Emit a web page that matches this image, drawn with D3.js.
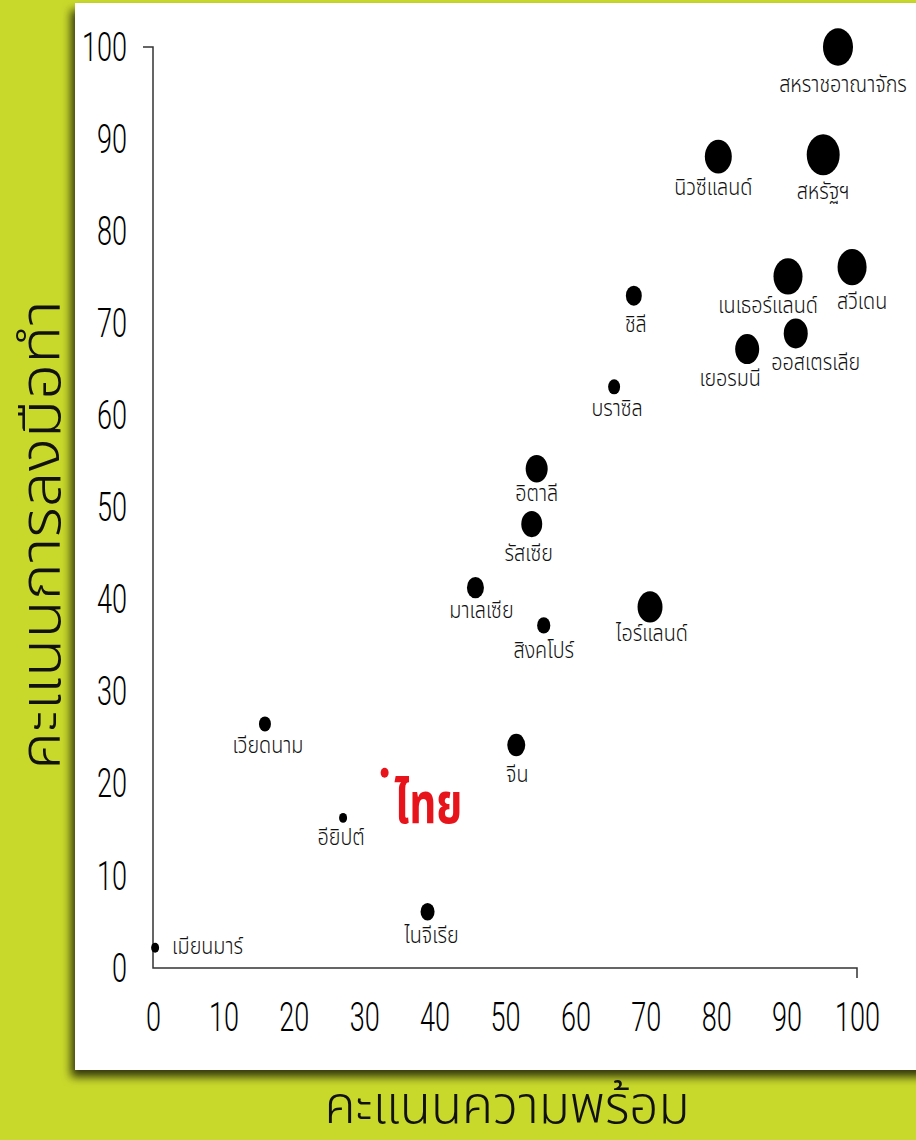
<!DOCTYPE html>
<html><head><meta charset="utf-8">
<script src="https://cdn.jsdelivr.net/npm/d3@7"></script>
<style>
html,body{margin:0;padding:0;background:#c9d92b;}
svg{display:block;}
.thai{font-family:"Noto Sans Thai","Noto Sans Thai UI","Noto Sans","DejaVu Sans",sans-serif;}
</style></head>
<body>
<svg id="chart" width="916" height="1140"></svg>
<script>
// ---- data ----
const countries = ["สหราชอาณาจักร","สหรัฐฯ","นิวซีแลนด์","เนเธอร์แลนด์","สวีเดน","ออสเตรเลีย","เยอรมนี","ชิลี","บราซิล","อิตาลี","รัสเซีย","มาเลเซีย","สิงคโปร์","ไอร์แลนด์","เวียดนาม","จีน","ไทย","อียิปต์","ไนจีเรีย","เมียนมาร์"];
const readiness = [97.3,95.2,80.3,90.2,99.3,91.3,84.4,68.3,65.5,54.5,53.8,45.8,55.5,70.6,15.9,51.6,32.9,27.0,39.0,0.3];
const action    = [100.0,88.3,88.1,75.1,76.1,68.9,67.2,73.0,63.1,54.2,48.2,41.3,37.2,39.2,26.5,24.2,21.2,16.3,6.1,2.2];
const size      = [78,94,63,73,73,50,50,22,12.5,42,38,25,15,54,12.5,28,5.5,5.5,17,5.5];
const xTicks = [0,10,20,30,40,50,60,70,80,90,100];
const yTicks = [0,10,20,30,40,50,60,70,80,90,100];
const xTitle = "คะแนนความพร้อม";
const yTitle = "คะแนนการลงมือทำ";
const highlight = "ไทย";

// ---- label layout (presentation only) ----
const labelShift = {
  "สหราชอาณาจักร":[5,4], "สหรัฐฯ":[0,2], "นิวซีแลนด์":[-5,0], "เนเธอร์แลนด์":[-20,-3],
  "สวีเดน":[10,2], "ออสเตรเลีย":[20,0], "เยอรมนี":[-17,0], "ชิลี":[2,4], "บราซิล":[3,0],
  "อิตาลี":[0,-4], "รัสเซีย":[-3,2], "มาเลเซีย":[6,-2], "สิงคโปร์":[0,2], "ไอร์แลนด์":[2,-4],
  "เวียดนาม":[3,0], "จีน":[1,4], "อียิปต์":[-2,0], "ไนจีเรีย":[4,0]
};

const data = countries.map((c,i)=>({name:c, rx:readiness[i], ac:action[i], s:size[i]}));

const svg = d3.select("#chart");
const defs = svg.append("defs");
const f = defs.append("filter").attr("id","shadow").attr("x","-10%").attr("y","-10%").attr("width","130%").attr("height","130%");
f.append("feDropShadow").attr("dx",-4).attr("dy",7).attr("stdDeviation",5).attr("flood-color","#000").attr("flood-opacity",0.75);

svg.append("rect").attr("width",916).attr("height",1140).attr("fill","#c9d92b");
svg.append("rect").attr("x",75).attr("y",3).attr("width",860).attr("height",1067).attr("fill","#fff").attr("filter","url(#shadow)");

const x = d3.scaleLinear().domain([0,100]).range([153,857]);
const y = d3.scaleLinear().domain([0,100]).range([968,47]);
const r = d3.scaleSqrt().domain([0,100]).range([0,17]);

// axes frame: outer tick at top of y and right end of x only
svg.append("path")
  .attr("d", `M${x(0)-10},${y(100)}H${x(0)}V${y(0)}H${x(100)}V${y(0)+10}`)
  .attr("fill","none").attr("stroke","#333").attr("stroke-width",1.5);

const numFont = "Roboto, 'DejaVu Sans', sans-serif";
const gy = svg.append("g").attr("transform",`translate(${x(0)},0)`)
  .call(d3.axisLeft(y).tickValues(yTicks).tickSize(0).tickPadding(26).tickFormat(d3.format("d")));
gy.select(".domain").remove();
gy.selectAll("text").each(function(){
  const t=d3.select(this); const tx=+t.attr("x");
  t.attr("x",0).attr("transform",`translate(${tx},0) scale(0.66,1)`);
}).attr("font-family",numFont).attr("font-weight",300).attr("font-size",41).attr("fill","#000");

const gx = svg.append("g").attr("transform",`translate(0,${y(0)})`)
  .call(d3.axisBottom(x).tickValues(xTicks).tickSize(0).tickPadding(34).tickFormat(d3.format("d")));
gx.select(".domain").remove();
gx.selectAll("text").each(function(){
  const t=d3.select(this); const ty=+t.attr("y");
  t.attr("y",0).attr("transform",`translate(0,${ty}) scale(0.66,1)`);
}).attr("font-family",numFont).attr("font-weight",300).attr("font-size",41).attr("fill","#000");

// points
const pts = svg.append("g");
pts.selectAll("ellipse").data(data).join("ellipse")
  .attr("cx",d=>x(d.rx)).attr("cy",d=>y(d.ac))
  .attr("rx",d=>r(d.s)).attr("ry",d=>r(d.s)*1.25)
  .attr("fill",d=>d.name===highlight?"#e8141b":"#000");

// labels
const lbl = svg.append("g").attr("class","thai");
lbl.selectAll("text").data(data.filter(d=>d.name!==highlight && d.name!=="เมียนมาร์")).join("text")
  .attr("transform",d=>{
    const sh = labelShift[d.name]||[0,0];
    return `translate(${x(d.rx)+sh[0]},${y(d.ac)+r(d.s)*1.25+22+sh[1]}) scale(0.86,1)`;})
  .attr("text-anchor","middle").attr("font-size",23).attr("font-weight",300).attr("fill","#111").text(d=>d.name);

const mm = data.find(d=>d.name==="เมียนมาร์");
lbl.append("text").attr("transform",`translate(${x(mm.rx)+17},${y(mm.ac)+6}) scale(0.86,1)`)
  .attr("font-size",23).attr("font-weight",300).attr("fill","#111").text(mm.name);

const th = data.find(d=>d.name===highlight);
lbl.append("text").attr("transform",`translate(${x(th.rx)+10},${y(th.ac)+50}) scale(0.75,1)`)
  .attr("font-size",56).attr("font-weight",700).attr("fill","#e8141b").text(th.name);

// titles, stretched to the reference's measured lengths
function fitTitle(sel, target){
  const len = sel.node().getComputedTextLength();
  return target/len;
}
const yt = svg.append("text").attr("class","thai")
  .attr("text-anchor","middle").attr("font-size",56).attr("font-weight",300).attr("fill","#111").text(yTitle);
const ys = fitTitle(yt, 470);
yt.attr("transform",`translate(60,535) rotate(-90) scale(${ys},1)`);

const xt = svg.append("text").attr("class","thai")
  .attr("text-anchor","middle").attr("font-size",52).attr("font-weight",300).attr("fill","#111").text(xTitle);
const xs = fitTitle(xt, 365);
xt.attr("transform",`translate(507,1123) scale(${xs},1)`);
</script>
</body></html>
